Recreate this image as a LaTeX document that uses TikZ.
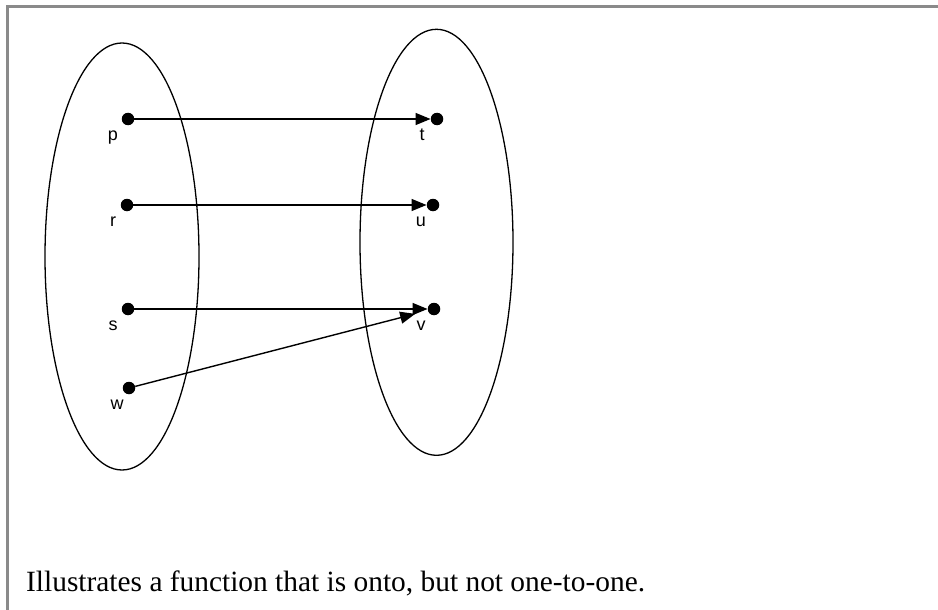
\documentclass[tikz,border=0pt]{standalone}
\usepackage{fontspec}
\setmainfont{Liberation Serif}
\newfontfamily\lblfont{Liberation Sans}
\usetikzlibrary{arrows.meta}
\definecolor{framegray}{HTML}{8A8A8A}
\begin{document}
\begin{tikzpicture}[x=1pt,y=-1pt,
  dotnode/.style={circle,fill=black,inner sep=0pt,minimum size=12.5pt},
  lbl/.style={font=\lblfont\fontsize{18}{18}\selectfont,anchor=base,inner sep=0pt},
  setshape/.style={draw=black,line width=1.3pt},
  maparrow/.style={draw=black,line width=1.4pt,-{Triangle[length=15pt,width=12pt]}},
  caption/.style={font=\fontsize{29.4}{30}\selectfont,anchor=base west,inner sep=0pt}]
\useasboundingbox (0,0) rectangle (938,610);
\fill[white] (0,0) rectangle (938,610);
\draw[framegray,line width=3pt] (7,610) -- (7,7) -- (938,7);
% sets
\draw[setshape] (122,256.5) ellipse [x radius=77, y radius=213.5];
\draw[setshape] (436.5,242.3) ellipse [x radius=76.5, y radius=213];
% elements
\node[dotnode] (p) at (128,119) {};
\node[dotnode] (r) at (127,205) {};
\node[dotnode] (s) at (128,309) {};
\node[dotnode] (w) at (129,388) {};
\node[dotnode] (t) at (437,119) {};
\node[dotnode] (u) at (433,205) {};
\node[dotnode] (v) at (434,309) {};
% labels
\node[lbl] (lp) at (113,140) {p};
\node[lbl] (lr) at (113,226) {r};
\node[lbl] (ls) at (113,330) {s};
\node[lbl] (lw) at (117,409) {w};
\node[lbl] (lt) at (422,140) {t};
\node[lbl] (lu) at (421,226) {u};
\node[lbl] (lv) at (421,330) {v};
% mappings
\draw[maparrow] (p) -- (t);
\draw[maparrow] (r) -- (u);
\draw[maparrow] (s) -- (v);
\draw[maparrow,shorten >=13pt] (w) -- (v);
% caption
\node[caption] (cap) at (26,591) {Illustrates a function that is onto, but not one-to-one.};
\end{tikzpicture}
\end{document}
